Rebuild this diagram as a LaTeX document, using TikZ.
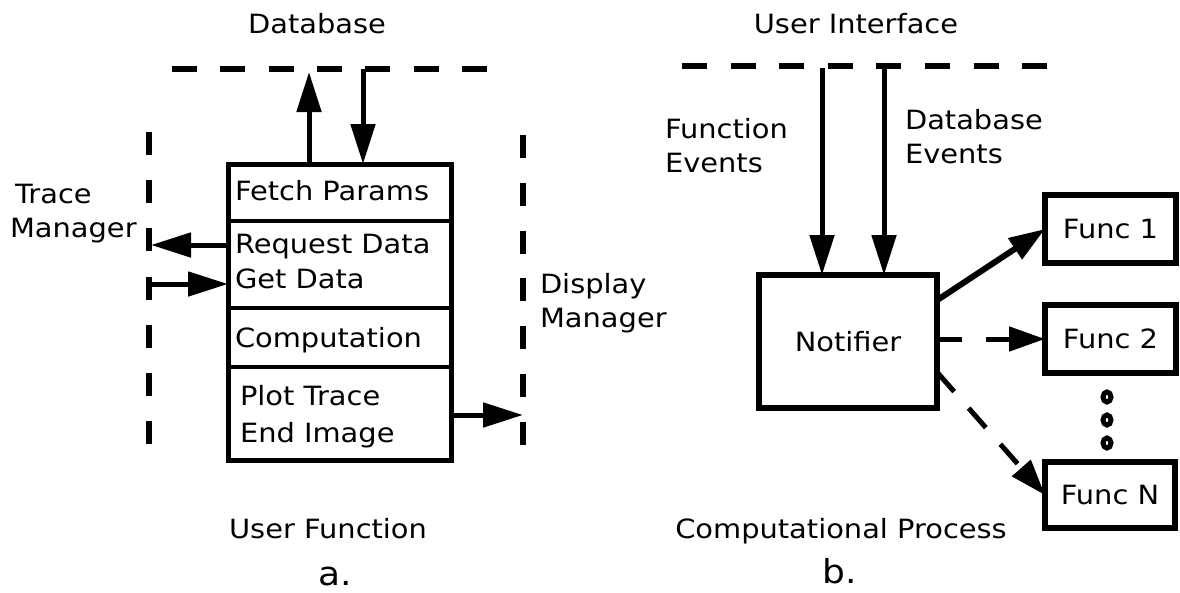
\documentclass[tikz,border=0pt]{standalone}
\usepackage{fontspec}
\setmainfont[FakeStretch=1.09]{DejaVu Sans}
\usetikzlibrary{arrows.meta,calc,shapes.geometric}
\begin{document}
\begin{tikzpicture}[x=1pt,y=-1pt,
  every node/.style={font=\fontsize{26.5}{34}\selectfont, inner sep=0pt, outer sep=0pt},
  lbl/.style={anchor=base west},
  ctr/.style={anchor=base},
  big/.style={font=\fontsize{33}{40}\selectfont},
  part/.style={draw, line width=4pt, minimum width=223pt, anchor=north west},
  funcbox/.style={draw, line width=6pt, minimum width=131pt, minimum height=68pt, anchor=north west},
  hdash/.style={line width=6.5pt, dash pattern=on 25pt off 23.3pt},
  vdash/.style={line width=6.5pt, dash pattern=on 23pt off 25.2pt},
  arr/.style={line width=5pt, -{Triangle[length=40pt,width=24pt]}},
  farr/.style={line width=6pt, -{Triangle[length=36pt,width=24pt]}},
  dot/.style={ellipse, draw, line width=5pt, minimum width=8pt, minimum height=10pt}
]
\fill[white] (0,0) rectangle (1180,592);
\useasboundingbox (0,0) rectangle (1180,592);

% ---------- a. User Function ----------
\coordinate (dbL) at (172,69);
\coordinate (dbR) at (487,69);
\draw[hdash] (dbL) -- (dbR);
\coordinate (tmTop) at (149,132);
\coordinate (tmBot) at (149,445);
\draw[vdash] (tmTop) -- (tmBot);
\coordinate (dmTop) at (523,135);
\coordinate (dmBot) at (523,446);
\draw[vdash, dash pattern=on 23pt off 24.8pt] (dmTop) -- (dmBot);

\node[part, minimum height=57pt] (fetch) at (228,164) {};
\node[part, minimum height=87pt] (getd) at (228,221) {};
\node[part, minimum height=59pt] (comp) at (228,308) {};
\node[part, minimum height=93pt] (plot) at (228,367) {};
\node[part, line width=5pt, minimum height=296pt] (uf) at (228,164) {};

\node[lbl] (tFetch) at (235,200) {Fetch Params};
\node[lbl] (tReq) at (235,253) {Request Data};
\node[lbl] (tGet) at (235,288) {Get Data};
\node[lbl] (tComp) at (235,347) {Computation};
\node[lbl] (tPlot) at (240,405) {Plot Trace};
\node[lbl] (tEnd) at (240,442) {End Image};

\node[ctr] (tDb) at (317,33) {Database};
\node[lbl] (tTrace1) at (15,203) {Trace};
\node[lbl] (tTrace2) at (10,237) {Manager};
\node[lbl] (tDisp1) at (540,293) {Display};
\node[lbl] (tDisp2) at (540,327) {Manager};
\node[ctr] (tUF) at (328,538) {User Function};
\node[ctr, big] (tA) at (335,585) {a.};

\coordinate (dbUp) at (309,72);
\coordinate (dbDown) at (363,69);
\draw[arr] (fetch.north -| dbUp) -- (dbUp);
\draw[arr] (dbDown) -- (fetch.north -| dbDown);
\coordinate (tmOut) at (151,245);
\coordinate (tmIn) at (149,284);
\draw[arr] (getd.west |- tmOut) -- (tmOut);
\draw[arr] (tmIn) -- (getd.west |- tmIn);
\coordinate (dmIn) at (523,415);
\draw[arr] (plot.east |- dmIn) -- (dmIn);

% ---------- b. Computational Process ----------
\coordinate (uiL) at (682,66);
\coordinate (uiR) at (1047,66);
\draw[hdash, dash pattern=on 25pt off 23.6pt] (uiL) -- (uiR);

\node[draw, line width=5.5pt, minimum width=178pt, minimum height=133pt, anchor=north west] (notif) at (759,275) {Notifier};

\node[funcbox] (f1) at (1045,195) {Func 1};
\node[funcbox] (f2) at (1045,305) {Func 2};
\node[funcbox, minimum width=130pt, minimum height=66pt] (fN) at (1045,462) {Func N};

\node[dot] (d1) at (1107,397) {};
\node[dot] (d2) at (1107,420) {};
\node[dot] (d3) at (1107,443) {};

\coordinate (uiA) at (822,68);
\coordinate (uiB) at (884,68);
\draw[arr] (uiA) -- (notif.north -| uiA);
\draw[arr] (uiB) -- (notif.north -| uiB);

\draw[farr] ($(notif.north east)!0.19!(notif.south east)$) -- (f1.west);
\draw[farr, line width=5pt, dash pattern=on 25pt off 24pt on 300pt] (notif.east |- f2.west) -- (f2.west);
\draw[farr, line width=5pt, dash pattern=on 26pt off 22pt] ($(notif.north east)!0.73!(notif.south east)$) -- (fN.west);

\node[ctr] (tUI) at (856,33) {User Interface};
\node[lbl] (tFE1) at (665,138) {Function};
\node[lbl] (tFE2) at (665,172) {Events};
\node[lbl] (tDE1) at (905,129) {Database};
\node[lbl] (tDE2) at (905,163) {Events};
\node[ctr] (tCP) at (841,538) {Computational Process};
\node[ctr, big] (tB) at (840,583) {b.};
\end{tikzpicture}
\end{document}
